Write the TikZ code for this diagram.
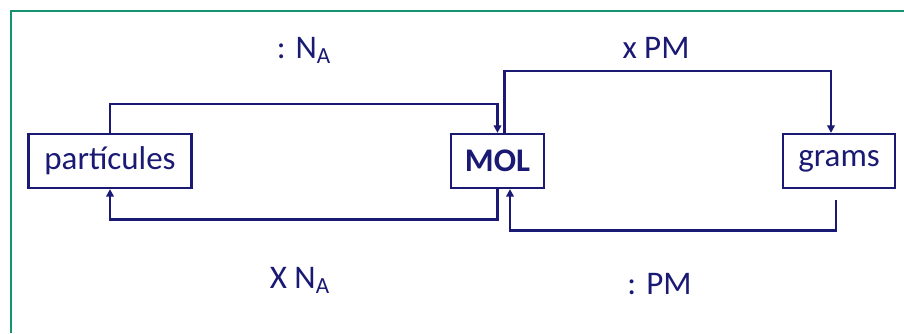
\documentclass[tikz,border=0pt]{standalone}
\usepackage{fontspec}
\setmainfont{Carlito}
\usepackage{xcolor}
\usepackage{tikz}
\usetikzlibrary{arrows.meta, positioning, calc}

\definecolor{molnavy}{RGB}{26,26,116}
\definecolor{framegreen}{RGB}{22,146,112}

\begin{document}
\begin{tikzpicture}[
    x=0.5pt, y=0.5pt,
    every node/.style={font=\fontsize{16.5}{19}\selectfont, text=molnavy},
    block/.style={rectangle, draw=molnavy, line width=1.1pt, fill=white, minimum height=27pt, inner sep=0pt, align=center},
    factor/.style={anchor=base, inner sep=0pt},
    arrow/.style={-{Triangle[length=3.8pt, width=3.8pt]}, line width=1.4pt, draw=molnavy}
]
\useasboundingbox (0,0) rectangle (904,333);
\fill[white] (0,0) rectangle (904,333);
\draw[framegreen, line width=1.3pt] (11,0) -- (11,322) -- (904,322);

\node[block, minimum width=81.5pt] (part) at (110,172) {partícules};
\node[block, minimum width=46.5pt] (mol) at (497.5,172) {\textbf{MOL}};
\node[block, minimum width=56pt] (grams) at (839,172) {grams};

\node[factor] (divna) at (304,275) {: N\textsubscript{A}};
\node[factor] (mulna) at (300,45) {X N\textsubscript{A}};
\node[factor] (mulpm) at (656,275) {x PM};
\node[factor] (divpm) at (659.5,39) {: PM};

\draw[arrow] (part.north) -- ++(0,29) -| (mol.north);
\draw[arrow] (mol.south) -- ++(0,-30) -| (part.south);
\draw[arrow] ($(mol.north)+(7,0)$) -- ++(0,62) -| ($(grams.north)+(-8,0)$);
\draw[arrow] ($(grams.south)+(-3,-11)$) -- ++(0,-30) -| ($(mol.south)+(12.5,0)$);

\end{tikzpicture}
\end{document}
